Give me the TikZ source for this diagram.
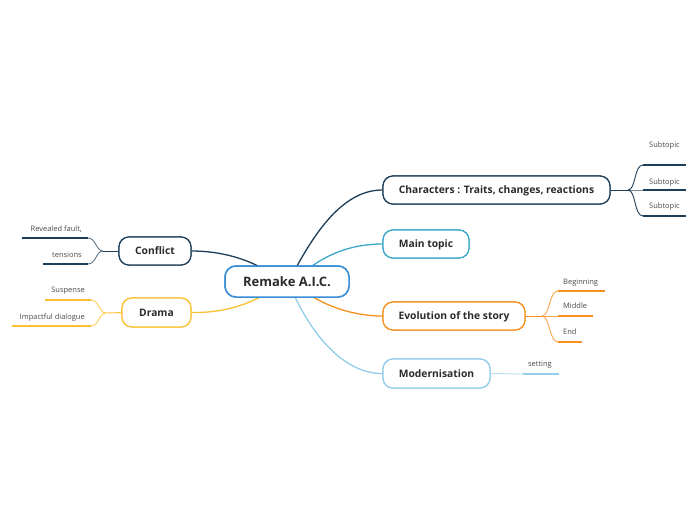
\documentclass[tikz,border=0pt]{standalone}
\usepackage{fontspec}
\setmainfont{Open Sans}
\definecolor{navy}{HTML}{1D3F5A}
\definecolor{teal}{HTML}{3AA7C9}
\definecolor{orng}{HTML}{F7901E}
\definecolor{lblue}{HTML}{92CDEB}
\definecolor{yell}{HTML}{FDC130}
\definecolor{cblue}{HTML}{3A8ED6}
\definecolor{txt}{HTML}{2B2B2B}
\begin{document}
\begin{tikzpicture}[x=1pt,y=-1pt,
  topicbox/.style={draw, line width=1.2pt, rounded corners=10pt, fill=white, inner sep=0pt,
     text height=7.4pt, text depth=0pt,
     font=\fontsize{10.3}{12}\selectfont\bfseries, text=txt},
  centerbox/.style={topicbox, draw=cblue, line width=1.5pt, rounded corners=11pt,
     text height=9.3pt, font=\fontsize{13}{15}\selectfont\bfseries},
  conn/.style={line width=1.3pt},
  thin/.style={line width=0.9pt},
  uline/.style={line width=2.2pt},
  sublabel/.style={font=\fontsize{7.5}{9}\selectfont, text=txt!85, inner sep=0pt,
     text height=5.4pt, text depth=0pt}
]
\useasboundingbox[fill=white] (0,0) rectangle (697,520);

\coordinate (cN1) at (297,266);
\coordinate (cN2) at (312,266);
\coordinate (cN0) at (258,266);
\coordinate (cS0) at (260,297);
\coordinate (cS1) at (295,297);
\coordinate (cS2) at (313,297);

% named nodes (placed first so connectors can refer to them)
\node[centerbox, minimum width=124pt, minimum height=31pt] (center) at (287,281.5) {Remake A.I.C.};
\node[topicbox, draw=navy, minimum width=227pt, minimum height=28pt] (chars) at (496.5,190) {Characters : Traits, changes, reactions};
\node[topicbox, draw=teal, minimum width=86pt, minimum height=28pt] (main) at (426,244) {Main topic};
\node[topicbox, draw=orng, minimum width=142pt, minimum height=28pt] (evol) at (454,316) {Evolution of the story};
\node[topicbox, draw=lblue, minimum width=107pt, minimum height=29pt] (modern) at (436.5,373.5) {Modernisation};
\node[topicbox, draw=navy, minimum width=72pt, minimum height=28pt] (conflict) at (155,251) {Conflict};
\node[topicbox, draw=yell, minimum width=69pt, minimum height=29pt] (drama) at (156.5,312.5) {Drama};

\draw[conn, navy] (cN1) .. controls (318,228) and (345,190) .. (chars.west);
\draw[conn, teal] (cN2) .. controls (332,252) and (355,244) .. (main.west);
\draw[conn, navy] (cN0) .. controls (238,256) and (215,251) .. (conflict.east);
\draw[conn, yell] (cS0) .. controls (240,308) and (215,313) .. (drama.east);
\draw[conn, orng] (cS2) .. controls (335,310) and (360,316) .. (evol.west);
\draw[conn, lblue] (cS1) .. controls (318,345) and (350,374) .. (modern.west);

% Characters subtopics
\coordinate (chB) at (628,190);
\coordinate (ch1) at (643,165); \coordinate (ch1e) at (686,165);
\coordinate (ch2) at (643,190); \coordinate (ch2e) at (686,190);
\coordinate (ch3) at (643,216); \coordinate (ch3e) at (686,216);
\draw[thin, navy] (chars.east) -- (chB);
\draw[thin, navy] (chB) .. controls (636,190) and (634,165) .. (ch1);
\draw[thin, navy!60] (chB) -- (ch2);
\draw[thin, navy] (chB) .. controls (636,190) and (634,216) .. (ch3);
\draw[uline, navy] (ch1) -- (ch1e);
\draw[uline, navy] (ch2) -- (ch2e);
\draw[uline, navy] (ch3) -- (ch3e);
\node[sublabel] (s1) at (664.5,144.5) {Subtopic};
\node[sublabel] (s2) at (664.5,181.5) {Subtopic};
\node[sublabel] (s3) at (664.5,206) {Subtopic};

% Conflict subtopics
\coordinate (coB) at (103,251);
\coordinate (co1) at (88,238); \coordinate (co1e) at (22,238);
\coordinate (co2) at (88,264); \coordinate (co2e) at (43,264);
\draw[thin, navy] (conflict.west) -- (coB);
\draw[thin, navy!70] (coB) .. controls (96,251) and (96,238) .. (co1);
\draw[thin, navy!70] (coB) .. controls (96,251) and (96,264) .. (co2);
\draw[uline, navy] (co1) -- (co1e);
\draw[uline, navy] (co2) -- (co2e);
\node[sublabel, anchor=east] (r1) at (82,229) {Revealed fault,};
\node[sublabel, anchor=east] (r2) at (82,254.5) {tensions};

% Drama subtopics
\coordinate (drB) at (106,313);
\coordinate (dr1) at (91,300); \coordinate (dr1e) at (45,300);
\coordinate (dr2) at (91,326); \coordinate (dr2e) at (12,326);
\draw[thin, yell] (drama.west) -- (drB);
\draw[thin, yell!80] (drB) .. controls (99,313) and (99,300) .. (dr1);
\draw[thin, yell!80] (drB) .. controls (99,313) and (99,326) .. (dr2);
\draw[uline, yell] (dr1) -- (dr1e);
\draw[uline, yell] (dr2) -- (dr2e);
\node[sublabel, anchor=east] (d1) at (85,290) {Suspense};
\node[sublabel, anchor=east] (d2) at (85,316.5) {Impactful dialogue};

% Evolution subtopics
\coordinate (evB) at (542,316);
\coordinate (ev1) at (558,291); \coordinate (ev1e) at (605,291);
\coordinate (ev2) at (558,316); \coordinate (ev2e) at (593,316);
\coordinate (ev3) at (558,342); \coordinate (ev3e) at (582,342);
\draw[thin, orng] (evol.east) -- (evB);
\draw[thin, orng!80] (evB) .. controls (550,316) and (549,291) .. (ev1);
\draw[thin, orng!80] (evB) -- (ev2);
\draw[thin, orng!80] (evB) .. controls (550,316) and (549,342) .. (ev3);
\draw[uline, orng] (ev1) -- (ev1e);
\draw[uline, orng] (ev2) -- (ev2e);
\draw[uline, orng] (ev3) -- (ev3e);
\node[sublabel, anchor=west] (e1) at (563,281.5) {Beginning};
\node[sublabel, anchor=west] (e2) at (563,306) {Middle};
\node[sublabel, anchor=west] (e3) at (563,332) {End};

% Modernisation subtopic
\coordinate (mo1) at (523,374); \coordinate (mo1e) at (559,374);
\draw[line width=1pt, lblue!65] (modern.east) -- (mo1);
\draw[uline, lblue] (mo1) -- (mo1e);
\node[sublabel] (m1) at (540,364) {setting};

% repaint boxes on top of connector ends
\node[centerbox, minimum width=124pt, minimum height=31pt] at (287,281.5) {Remake A.I.C.};
\node[topicbox, draw=navy, minimum width=227pt, minimum height=28pt] at (496.5,190) {Characters : Traits, changes, reactions};
\node[topicbox, draw=teal, minimum width=86pt, minimum height=28pt] at (426,244) {Main topic};
\node[topicbox, draw=orng, minimum width=142pt, minimum height=28pt] at (454,316) {Evolution of the story};
\node[topicbox, draw=lblue, minimum width=107pt, minimum height=29pt] at (436.5,373.5) {Modernisation};
\node[topicbox, draw=navy, minimum width=72pt, minimum height=28pt] at (155,251) {Conflict};
\node[topicbox, draw=yell, minimum width=69pt, minimum height=29pt] at (156.5,312.5) {Drama};
\end{tikzpicture}
\end{document}
